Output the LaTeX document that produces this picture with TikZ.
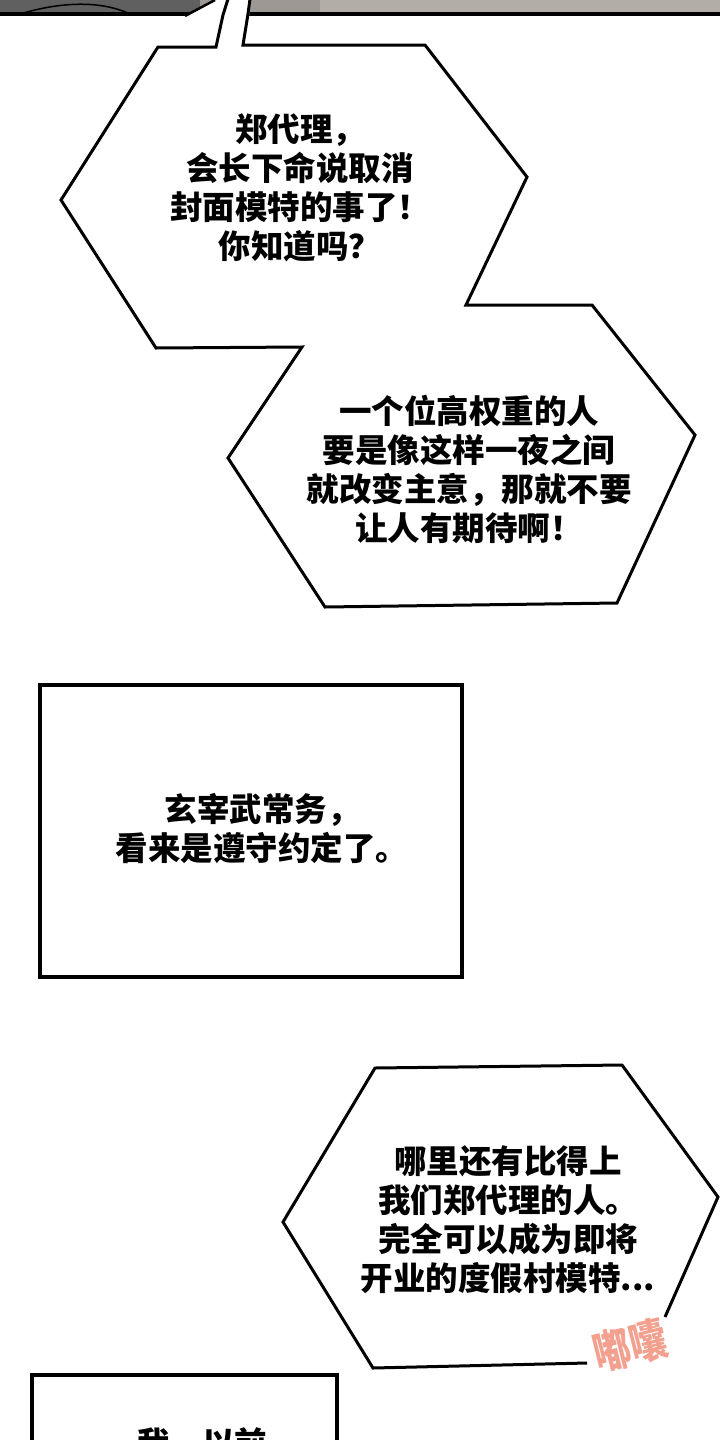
\documentclass[tikz,border=0pt]{standalone}
\usepackage{fontspec}
\newfontfamily\cjk{Noto Sans CJK SC}
\definecolor{panelgray}{HTML}{B2ADA6}
\definecolor{paneldark}{HTML}{606060}
\definecolor{panelmid}{HTML}{9E9894}
\definecolor{sfxcol}{HTML}{F3A08F}
\tikzset{
  bubble/.style={draw=black, line width=3pt, line join=miter},
  boxline/.style={draw=black, line width=3.5pt},
  speech/.style={font=\cjk\bfseries\fontsize{32.5}{39}\selectfont, align=center, inner sep=0pt, text=black},
  sfx/.style={font=\cjk\bfseries\fontsize{46}{46}\selectfont, text=sfxcol, inner sep=0pt}
}
\begin{document}
\begin{tikzpicture}[x=1pt,y=-1pt]
\useasboundingbox (0,0) rectangle (720,1440);
\clip (0,0) rectangle (720,1440);
\fill[white] (0,0) rectangle (720,1440);
% top panel strip
\fill[panelgray] (0,0) rectangle (720,14);
\fill[paneldark] (0,0) rectangle (200,14);
\fill[panelmid] (200,0) rectangle (320,14);
\draw[black, line width=1.5pt] (20,14) .. controls (60,2) and (100,0) .. (130,14);
\fill[black] (0,12) rectangle (720,16);
% tail cutting through the strip
\fill[white] (185,17) -- (215,-1) -- (251,-1) -- (249,17) -- cycle;
\draw[black, line width=2.5pt] (185,16) -- (215,0);
% bubble 1 and 2 merged outline
\draw[bubble] (228,-1) -- (223,15) -- (216,47) -- (158,47) -- (61,200) -- (156,348) -- (302,347)
  -- (228,458) -- (325,607) -- (617,603) -- (695,435) -- (592,305) -- (466,305)
  -- (527,177) -- (425,45) -- (243,45) -- (248,14) -- (250,-1);
\node[speech] (t1) at (300,188) {郑代理，\\会长下命说取消\\封面模特的事了！\\你知道吗？};
\node[speech] (t2) at (469,469) {一个位高权重的人\\要是像这样一夜之间\\就改变主意，那就不要\\让人有期待啊！};
% narration box
\draw[boxline] (40,685) rectangle (462,977);
\node[speech] (t3) at (262,828) {玄宰武常务，\\看来是遵守约定了。};
% bubble 3
\draw[bubble] (587,1363) -- (373,1368) -- (283,1222) -- (375,1068) -- (622,1065) -- (718,1197) -- (665,1317);
\node[speech] (t4) at (508,1220) {哪里还有比得上\\我们郑代理的人。\\完全可以成为即将\\开业的度假村模特...};
\node[sfx, rotate=14, xscale=0.8] (s1) at (630,1346) {嘟囔};
% bottom box
\draw[boxline] (32,1500) -- (32,1375) -- (337,1375) -- (337,1500);
\node[speech, anchor=north] (t5) at (202,1427) {我，以前};
\end{tikzpicture}
\end{document}
